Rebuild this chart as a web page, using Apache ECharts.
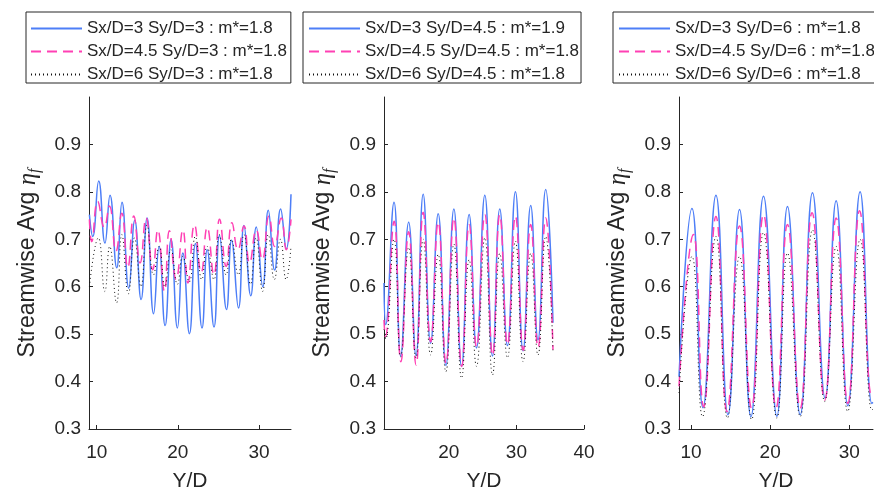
<!DOCTYPE html>
<html><head><meta charset="utf-8">
<script src="https://cdn.jsdelivr.net/npm/echarts@6/dist/echarts.min.js"></script>
<style>html,body{margin:0;padding:0;background:#fff}#c{width:874px;height:488px}</style>
</head><body><div id="c"></div>
<script>
// ---- tick labels ----
const yTicks = [0.3, 0.4, 0.5, 0.6, 0.7, 0.8, 0.9];
const xTicks1 = [10, 20, 30];
const xTicks2 = [20, 30, 40];
const xTicks3 = [10, 20, 30];

// ---- legend names ----
const names1 = ['Sx/D=3 Sy/D=3 : m*=1.8', 'Sx/D=4.5 Sy/D=3 : m*=1.8', 'Sx/D=6 Sy/D=3 : m*=1.8'];
const names2 = ['Sx/D=3 Sy/D=4.5 : m*=1.9', 'Sx/D=4.5 Sy/D=4.5 : m*=1.8', 'Sx/D=6 Sy/D=4.5 : m*=1.8'];
const names3 = ['Sx/D=3 Sy/D=6 : m*=1.8', 'Sx/D=4.5 Sy/D=6 : m*=1.8', 'Sx/D=6 Sy/D=6 : m*=1.8'];

// ---- panel 1 (Sy/D=3) ----
const p1BlueX = [9.1, 9.51, 10.25, 11.02, 11.64, 12.47, 13.12, 13.95, 14.69, 15.47, 16.21, 17.01, 17.69, 18.43, 19.17, 19.95, 20.62, 21.43, 22.17, 22.98, 23.62, 24.46, 25.14, 26.0, 26.62, 27.48, 28.15, 28.99, 29.67, 30.47, 31.15, 31.93, 32.67, 33.37, 33.95];
const p1BlueY = [0.752, 0.706, 0.823, 0.692, 0.793, 0.640, 0.778, 0.597, 0.740, 0.573, 0.745, 0.543, 0.685, 0.518, 0.700, 0.513, 0.671, 0.501, 0.691, 0.513, 0.678, 0.515, 0.708, 0.552, 0.698, 0.555, 0.729, 0.581, 0.726, 0.600, 0.761, 0.635, 0.764, 0.680, 0.795];
const p1PinkX = [9.1, 9.38, 10.12, 10.94, 11.56, 12.38, 13.09, 13.83, 14.57, 15.35, 16.09, 16.91, 17.53, 18.35, 18.96, 19.79, 20.62, 21.24, 22.05, 22.88, 23.62, 24.45, 25.14, 25.96, 26.67, 27.41, 28.15, 28.84, 29.67, 30.41, 31.24, 31.93, 32.75, 33.37, 33.95];
const p1PinkY = [0.742, 0.695, 0.780, 0.725, 0.770, 0.675, 0.755, 0.640, 0.749, 0.650, 0.745, 0.636, 0.720, 0.590, 0.718, 0.615, 0.720, 0.608, 0.731, 0.630, 0.725, 0.625, 0.742, 0.643, 0.735, 0.678, 0.728, 0.650, 0.720, 0.657, 0.749, 0.685, 0.745, 0.678, 0.742];
const p1BlackX = [9.1, 10.2, 11.0, 11.6, 12.45, 13.1, 13.9, 14.65, 15.45, 16.2, 17.0, 17.7, 18.4, 19.15, 19.95, 20.6, 21.4, 22.15, 22.95, 23.6, 24.45, 25.1, 25.95, 26.6, 27.45, 28.15, 28.95, 29.65, 30.45, 31.15, 31.9, 32.65, 33.35, 33.95];
const p1BlackY = [0.600, 0.703, 0.590, 0.685, 0.566, 0.710, 0.585, 0.703, 0.600, 0.730, 0.625, 0.685, 0.600, 0.678, 0.605, 0.664, 0.610, 0.706, 0.615, 0.685, 0.615, 0.710, 0.625, 0.700, 0.625, 0.710, 0.605, 0.703, 0.590, 0.710, 0.615, 0.700, 0.615, 0.685];

// ---- panel 2 (Sy/D=4.5) ----
const p2BlueX = [10.4, 10.65, 11.88, 12.87, 14.05, 15.13, 16.2, 17.3, 18.42, 19.56, 20.74, 21.88, 23.0, 24.09, 25.32, 26.46, 27.53, 28.67, 29.85, 30.98, 32.11, 33.19, 34.33, 35.41];
const p2BlueY = [0.608, 0.520, 0.778, 0.454, 0.736, 0.455, 0.795, 0.481, 0.754, 0.434, 0.764, 0.432, 0.752, 0.471, 0.793, 0.454, 0.764, 0.476, 0.800, 0.465, 0.771, 0.488, 0.805, 0.524];
const p2PinkX = [10.4, 10.6, 11.9, 12.9, 14.05, 15.15, 16.2, 17.3, 18.42, 19.58, 20.74, 21.9, 23.0, 24.1, 25.32, 26.47, 27.53, 28.68, 29.85, 31.0, 32.11, 33.2, 34.33, 35.41];
const p2PinkY = [0.530, 0.495, 0.738, 0.442, 0.716, 0.435, 0.757, 0.484, 0.736, 0.438, 0.745, 0.432, 0.731, 0.473, 0.752, 0.455, 0.752, 0.478, 0.749, 0.466, 0.731, 0.472, 0.745, 0.467];
const p2BlackX = [10.4, 10.65, 11.88, 12.87, 14.05, 15.13, 16.2, 17.3, 18.42, 19.56, 20.74, 21.88, 23.0, 24.09, 25.32, 26.46, 27.53, 28.67, 29.85, 30.98, 32.11, 33.19, 34.33, 35.41];
const p2BlackY = [0.510, 0.490, 0.700, 0.452, 0.683, 0.450, 0.700, 0.456, 0.668, 0.421, 0.690, 0.407, 0.657, 0.432, 0.703, 0.414, 0.670, 0.450, 0.696, 0.442, 0.670, 0.456, 0.706, 0.463];

// ---- panel 3 (Sy/D=6) ----
const p3BlueX = [8.48, 10.12, 11.51, 13.15, 14.67, 16.13, 17.57, 19.16, 20.85, 22.19, 23.8, 25.35, 26.95, 28.34, 29.82, 31.37, 32.85, 33.0];
const p3BlueY = [0.410, 0.765, 0.345, 0.793, 0.330, 0.763, 0.326, 0.791, 0.327, 0.769, 0.330, 0.798, 0.365, 0.781, 0.349, 0.800, 0.354, 0.356];
const p3PinkX = [8.48, 10.3, 11.6, 13.15, 14.55, 16.13, 17.65, 19.16, 20.75, 22.19, 23.8, 25.3, 26.9, 28.34, 29.82, 31.3, 32.85, 33.0];
const p3PinkY = [0.390, 0.710, 0.347, 0.748, 0.337, 0.728, 0.344, 0.752, 0.345, 0.731, 0.344, 0.756, 0.361, 0.745, 0.354, 0.760, 0.368, 0.370];
const p3BlackX = [8.48, 10.12, 11.45, 13.15, 14.6, 16.13, 17.65, 19.16, 20.85, 22.19, 23.8, 25.35, 26.9, 28.34, 29.8, 31.37, 32.85, 33.0];
const p3BlackY = [0.376, 0.664, 0.326, 0.706, 0.323, 0.664, 0.320, 0.714, 0.323, 0.671, 0.326, 0.720, 0.358, 0.685, 0.337, 0.700, 0.340, 0.342];

// ---- axis extents ----
const xMin = [9.05, 10.4, 8.48];
const xMax = [33.95, 40, 33.0];

const AX = '#262626';
const FONT = 'Liberation Sans';
const styles = [
  {color: '#4d7ef7', width: 1.5, type: 'solid'},
  {color: '#ff40b4', width: 1.5, type: [10, 6]},
  {color: '#111111', width: 1, type: [1, 3]}
];

function mk(name, xs, ys, idx, k) {
  return {
    type: 'line', name: name, xAxisIndex: idx, yAxisIndex: idx,
    data: xs.map((x, i) => [x, ys[i]]),
    smooth: 0.5, symbol: 'none', showSymbol: false,
    lineStyle: styles[k], itemStyle: {color: styles[k].color},
    animation: false, z: 2 + k
  };
}

const grids = [
  {left: 89, top: 97, width: 202, height: 332, outerBoundsMode: 'none', containLabel: false},
  {left: 384, top: 97, width: 200, height: 332, outerBoundsMode: 'none', containLabel: false},
  {left: 679, top: 97, width: 194, height: 332, outerBoundsMode: 'none', containLabel: false}
];
const xTickSets = [xTicks1, xTicks2, xTicks3];

const xAxes = grids.map((g, i) => ({
  type: 'value', gridIndex: i, min: xMin[i], max: xMax[i],
  name: 'Y/D', nameLocation: 'middle', nameGap: 42,
  nameTextStyle: {fontSize: 21, color: AX, fontFamily: FONT},
  axisLine: {show: true, onZero: false, lineStyle: {color: AX, width: 1}},
  axisTick: {show: true, inside: true, length: 4, lineStyle: {color: AX}, customValues: xTickSets[i]},
  axisLabel: {fontSize: 19, color: AX, fontFamily: FONT, margin: 14, customValues: xTickSets[i]},
  splitLine: {show: false}
}));

const yAxes = grids.map((g, i) => ({
  type: 'value', gridIndex: i, min: 0.3, max: 1.0,
  name: '{a|Streamwise Avg }{b|η}{c|f}', nameLocation: 'middle', nameGap: 46,
  nameTextStyle: {
    color: AX,
    rich: {
      a: {fontSize: 23, fontFamily: FONT, color: AX, lineHeight: 30},
      b: {fontSize: 25, fontFamily: 'Liberation Serif', fontStyle: 'italic', color: AX, lineHeight: 30},
      c: {fontSize: 16, fontFamily: 'Liberation Serif', fontStyle: 'italic', color: AX, lineHeight: 16, verticalAlign: 'bottom'}
    }
  },
  axisLine: {show: true, onZero: false, lineStyle: {color: AX, width: 1}},
  axisTick: {show: true, inside: true, length: 4, lineStyle: {color: AX}, customValues: yTicks},
  axisLabel: {fontSize: 19, color: AX, fontFamily: FONT, margin: 8, customValues: yTicks,
    formatter: v => v.toFixed(1)},
  splitLine: {show: false}
}));

function legendFor(names, left, padL, padR) {
  return {
    orient: 'vertical', left: left, top: 12, data: names,
    itemWidth: 51, itemHeight: 14, itemGap: 6,
    padding: [8, padR, 0, padL],
    borderColor: AX, borderWidth: 1, backgroundColor: '#fff',
    selectedMode: false,
    itemStyle: {opacity: 0, borderWidth: 0},
    textStyle: {fontSize: 17, color: AX, fontFamily: FONT}
  };
}

const series = [
  mk(names1[0], p1BlueX, p1BlueY, 0, 0),
  mk(names1[1], p1PinkX, p1PinkY, 0, 1),
  mk(names1[2], p1BlackX, p1BlackY, 0, 2),
  mk(names2[0], p2BlueX, p2BlueY, 1, 0),
  mk(names2[1], p2PinkX, p2PinkY, 1, 1),
  mk(names2[2], p2BlackX, p2BlackY, 1, 2),
  mk(names3[0], p3BlueX, p3BlueY, 2, 0),
  mk(names3[1], p3PinkX, p3PinkY, 2, 1),
  mk(names3[2], p3BlackX, p3BlackY, 2, 2)
];

const chart = echarts.init(document.getElementById('c'), null, {renderer: 'canvas'});
chart.setOption({
  animation: false,
  backgroundColor: '#fff',
  grid: grids,
  xAxis: xAxes,
  yAxis: yAxes,
  legend: [legendFor(names1, 26, 4, 4), legendFor(names2, 303, 5, 2), legendFor(names3, 613, 5, 1)],
  series: series
});
</script>
</body></html>
